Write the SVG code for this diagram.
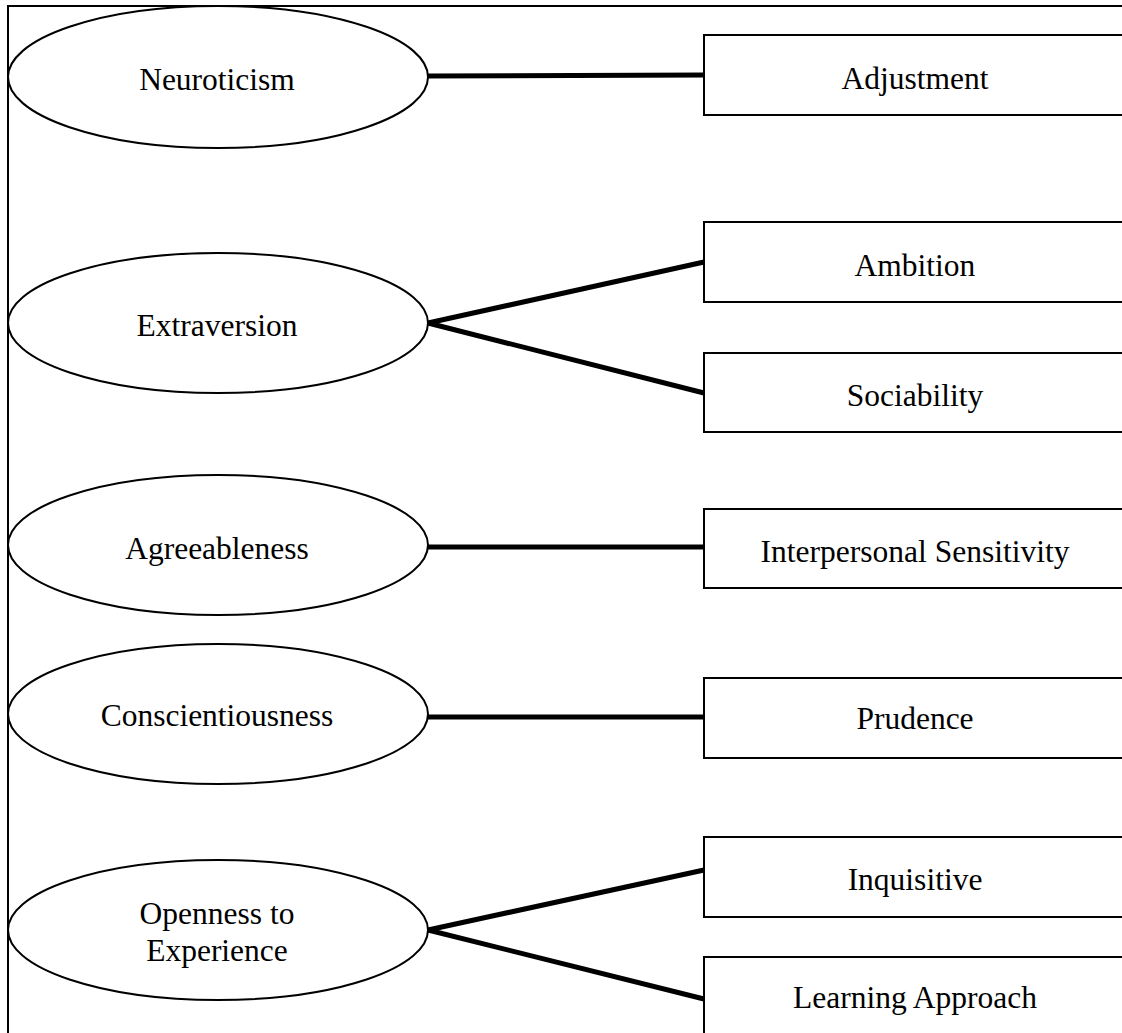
<svg xmlns="http://www.w3.org/2000/svg" width="1122" height="1033" viewBox="0 0 1122 1033">
<style>
.frame{fill:none;stroke:#000;stroke-width:2}
.ell{fill:#fff;stroke:#000;stroke-width:2}
.box{fill:#fff;stroke:#000;stroke-width:2}
.conn line{stroke:#000;stroke-width:5}
text{font-family:"Liberation Serif","Times New Roman",serif;font-size:31.5px;fill:#000;text-anchor:middle}
</style>
<rect width="1122" height="1033" fill="#fff"/>
<rect class="frame" x="8" y="6" width="1200" height="1100"/>
<g id="connectors" class="conn">
<line x1="428" y1="76" x2="704" y2="75"/>
<line x1="428" y1="323" x2="704" y2="262"/>
<line x1="428" y1="323" x2="704" y2="393"/>
<line x1="428" y1="547" x2="704" y2="547"/>
<line x1="428" y1="717" x2="704" y2="717"/>
<line x1="428" y1="930" x2="704" y2="870"/>
<line x1="428" y1="930" x2="704" y2="999"/>
</g>
<g id="neuroticism"><ellipse class="ell" cx="218" cy="77" rx="210" ry="71"/><text x="217" y="90">Neuroticism</text></g>
<g id="extraversion"><ellipse class="ell" cx="218" cy="323" rx="210" ry="70"/><text x="217" y="336">Extraversion</text></g>
<g id="agreeableness"><ellipse class="ell" cx="218" cy="545" rx="210" ry="70"/><text x="217" y="559">Agreeableness</text></g>
<g id="conscientiousness"><ellipse class="ell" cx="218" cy="714" rx="210" ry="70"/><text x="217" y="726">Conscientiousness</text></g>
<g id="openness"><ellipse class="ell" cx="218" cy="930" rx="210" ry="70"/><text x="217" y="924">Openness to</text><text x="217" y="961">Experience</text></g>
<g id="adjustment"><rect class="box" x="704" y="35" width="500" height="80"/><text x="915" y="89">Adjustment</text></g>
<g id="ambition"><rect class="box" x="704" y="222" width="500" height="80"/><text x="915" y="276">Ambition</text></g>
<g id="sociability"><rect class="box" x="704" y="353" width="500" height="79"/><text x="915" y="406">Sociability</text></g>
<g id="interpersonal"><rect class="box" x="704" y="509" width="500" height="79"/><text x="915" y="562">Interpersonal Sensitivity</text></g>
<g id="prudence"><rect class="box" x="704" y="678" width="500" height="80"/><text x="915" y="729">Prudence</text></g>
<g id="inquisitive"><rect class="box" x="704" y="837" width="500" height="80"/><text x="915" y="890">Inquisitive</text></g>
<g id="learning"><rect class="box" x="704" y="957" width="500" height="120"/><text x="915" y="1008">Learning Approach</text></g>
</svg>
